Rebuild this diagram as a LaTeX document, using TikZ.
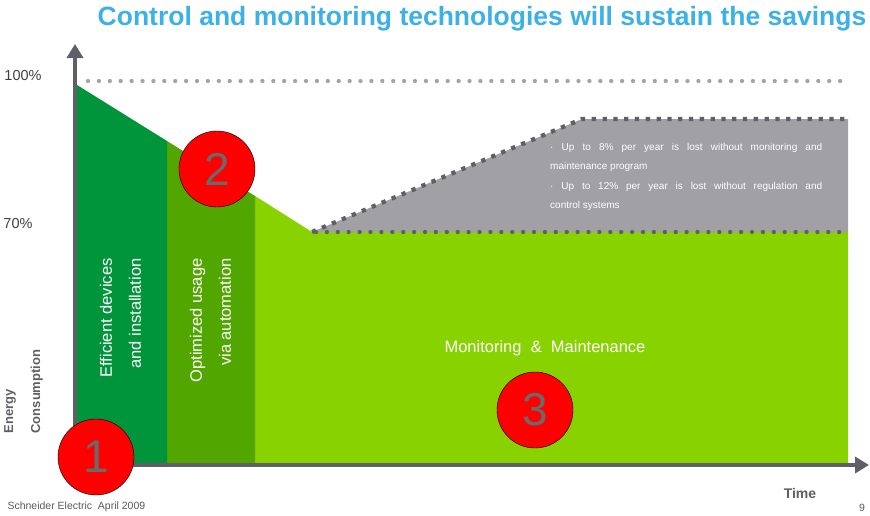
\documentclass[tikz,border=0pt]{standalone}
\usepackage{fontspec}
\setmainfont{Liberation Sans}
\usetikzlibrary{arrows.meta}
\definecolor{deepgreen}{HTML}{00953A}
\definecolor{midgreen}{HTML}{52A600}
\definecolor{limegreen}{HTML}{88D200}
\definecolor{lossgray}{HTML}{A0A0A5}
\definecolor{axisgray}{HTML}{5F5F67}
\definecolor{dotgray}{HTML}{A3A3A8}
\definecolor{titleblue}{HTML}{3DB0E6}
\definecolor{numgray}{HTML}{6A6A6A}

\begin{document}
\begin{tikzpicture}[x=1pt,y=-1pt,
    axis/.style={axisgray,line width=4pt,-{Triangle[width=16pt,length=14pt]}},
    rounddots/.style={line width=4.3pt,line cap=round,dash pattern=on 0pt off 10.9pt},
    squaredots/.style={axisgray,line width=4.3pt,dash pattern=on 4.3pt off 6.5pt},
    badge/.style={circle,draw=black,fill=red,minimum size=76pt,inner sep=0pt,text=numgray,font=\fontsize{46}{46}\selectfont},
    stagelabel/.style={white,rotate=90,align=right,anchor=east,font=\fontsize{16.5}{29}\selectfont},
    ticklabel/.style={text=black!75,font=\fontsize{14.5}{14.5}\selectfont},
    footer/.style={text=black!65,font=\fontsize{10.5}{10.5}\selectfont}]
\useasboundingbox (0,0) rectangle (870,515);
% areas
\fill[limegreen] (255,196) -- (312,232) -- (848,232) -- (848,463) -- (255,463) -- cycle;
\fill[midgreen] (167,141) -- (255,196) -- (255,463) -- (167,463) -- cycle;
\fill[deepgreen] (77,85) -- (167,141) -- (167,463) -- (77,463) -- cycle;
\fill[lossgray] (312,232) -- (582,119) -- (848,119) -- (848,232) -- cycle;
\draw[squaredots] (312,232) -- (582,119) -- (848,119);
\draw[rounddots,axisgray] (316,232) -- (848,232);
\draw[rounddots,dotgray] (88,81) -- (850,81);
%
\coordinate (origin) at (75,465);
\coordinate (ytop) at (75,44);
\coordinate (xend) at (869,465);
\draw[axis] (origin) -- (ytop);
\draw[axis] (origin) -- (xend);
%
\node [titleblue,font=\bfseries\fontsize{26.5}{26.5}\selectfont] at (482,19) (title) {Control and monitoring technologies will sustain the savings};
\node [ticklabel] at (23,76) (full) {100\%};
\node [ticklabel] at (18,224) (seventy) {70\%};
\node [stagelabel] at (120.5,255) (devices) {Efficient devices\\and installation};
\node [stagelabel] at (210.5,255) (usage) {Optimized usage\\via automation};
\node [white,font=\fontsize{16.5}{16.5}\selectfont] at (545,348) (maint) {Monitoring \ \& \ Maintenance};
\node [white,align=left,anchor=north west,inner sep=0pt,font=\fontsize{10}{19.4}\selectfont] at (550,143) (loss) {\makebox[272pt][s]{· Up to 8\% per year is lost without monitoring and}\\maintenance program\\\makebox[272pt][s]{· Up to 12\% per year is lost without regulation and}\\control systems};
\node [badge] at (96,457) (one) {1};
\node [badge] at (217,169) (two) {2};
\node [badge] at (535,410) (three) {3};
\node [axisgray,rotate=90,align=left,anchor=west,font=\bfseries\fontsize{13}{27}\selectfont] at (23.5,437) (energy) {Energy\\Consumption};
\node [axisgray,font=\bfseries\fontsize{14}{14}\selectfont] at (800,493) (time) {Time};
\node [footer,anchor=west] at (4,507) (brand) {Schneider Electric \ April 2009};
\node [footer] at (862,508) (page) {9};
\end{tikzpicture}
\end{document}
